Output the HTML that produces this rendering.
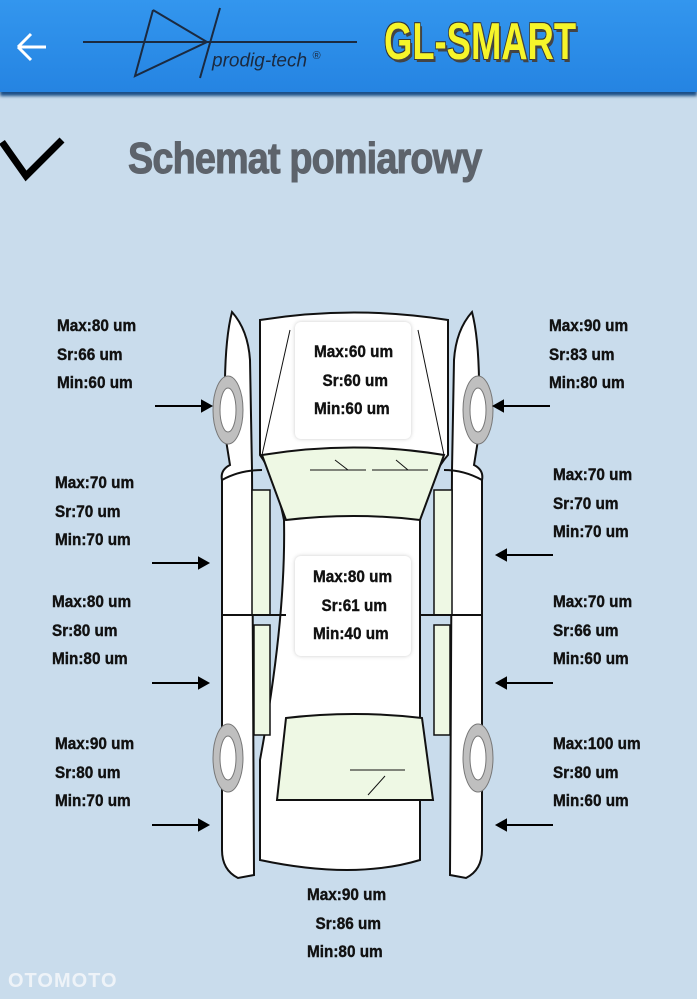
<!DOCTYPE html>
<html><head><meta charset="utf-8"><style>
body{margin:0;width:697px;height:999px;overflow:hidden;background:#c9dcec;font-family:"Liberation Sans",sans-serif;position:relative}
.hdr{position:absolute;left:0;top:0;width:697px;height:92px;background:linear-gradient(#3396ee,#2584e2);box-shadow:0 4px 3px #1a4e86}
.t{position:absolute;font-weight:bold;font-size:17px;line-height:28.5px;color:#111;transform:scaleX(.9);transform-origin:left top;white-space:nowrap;-webkit-text-stroke:.4px #111}
.title{position:absolute;left:128px;top:134px;font-size:44px;font-weight:bold;color:#5d636b;transform:scaleX(.86);transform-origin:left top;letter-spacing:-1px;-webkit-text-stroke:1px #5d636b}
.gl{position:absolute;left:384px;top:12px;font-size:52px;font-weight:bold;color:#f6f52a;transform:scaleX(.7);transform-origin:left top;text-shadow:3px 3px 0 #444,-1px -1px 0 #333,1px -1px 0 #333,-1px 1px 0 #333}
.box{position:absolute;background:#fff;border-radius:6px;box-shadow:0 0 4px #ccc}
</style></head><body>
<div class="hdr"></div>
<svg style="position:absolute;left:0;top:0" width="697" height="999">
<path d="M18 47H46M18 47L31 34M18 47L31 60" stroke="#fff" stroke-width="3" fill="none"/>
<path d="M83 42H357M153 10L135 76L207 42L153 10M220 8L200 78" stroke="#1b2a40" stroke-width="2" fill="none"/>
<path d="M2 142L26 176L62 140" stroke="#000" stroke-width="7" fill="none"/>
<g stroke="#111" stroke-width="2" fill="#fff">
<path d="M232 312Q248 330 250 360L252 470L254 875L238 878Q222 870 222 850L222 480Q220 470 230 465L226 440Q222 350 232 312Z"/>
<path d="M472 312Q456 330 454 360L452 470L450 875L466 878Q482 870 482 850L482 480Q484 470 474 465L478 440Q482 350 472 312Z"/>
<path d="M260 320Q354 305 448 320L448 455Q430 475 420 520L420 860Q354 880 260 860L260 760Q286 620 284 520Q275 475 260 455Z"/>
<path d="M262 455Q354 440 444 455L420 520Q354 512 286 520Z" fill="#eef8e4"/>
<path d="M286 718Q354 710 422 718L433 800H277Z" fill="#eef8e4"/>
<path d="M262 455L290 330M444 455L418 330" fill="none" stroke-width="1"/>
<path d="M252 490L270 490L270 615L252 615ZM254 625L270 625L270 735L254 735Z M434 490L452 490L452 615L434 615ZM434 625L450 625L450 735L434 735Z" fill="#eef8e4" stroke-width="1.5"/>
<path d="M222 615H286M420 615H482M222 480Q240 470 262 470M482 480Q464 470 444 470" fill="none"/>
<path d="M310 470H366M372 470H428M350 770H405M368 795L385 776M335 460L348 470M396 460L408 470" fill="none" stroke-width="1"/>
</g>
<g fill="#bfbfbf" stroke="#777"><ellipse cx="228" cy="410" rx="15" ry="34"/><ellipse cx="478" cy="410" rx="15" ry="34"/><ellipse cx="228" cy="758" rx="15" ry="34"/><ellipse cx="478" cy="758" rx="15" ry="34"/></g>
<g fill="#fff" stroke="#777"><ellipse cx="228" cy="410" rx="8" ry="22"/><ellipse cx="478" cy="410" rx="8" ry="22"/><ellipse cx="228" cy="758" rx="8" ry="22"/><ellipse cx="478" cy="758" rx="8" ry="22"/></g>
<g stroke="#000" stroke-width="2" fill="#000">
<path d="M155 406H204"/><path d="M211 406L202 401V411Z"/>
<path d="M152 563H200"/><path d="M208 563L199 558V568Z"/>
<path d="M152 683H200"/><path d="M208 683L199 678V688Z"/>
<path d="M152 825H200"/><path d="M208 825L199 820V830Z"/>
<path d="M550 406H501"/><path d="M494 406L503 401V411Z"/>
<path d="M553 555H504"/><path d="M497 555L506 550V560Z"/>
<path d="M553 683H504"/><path d="M497 683L506 678V688Z"/>
<path d="M553 825H504"/><path d="M497 825L506 820V830Z"/>
</g>
</svg>
<div style="position:absolute;left:212px;top:50px;font-size:19px;font-style:italic;color:#1b2a40">prodig-tech <sup style="font-size:11px">®</sup></div>
<div class="gl">GL-SMART</div>
<div class="title">Schemat pomiarowy</div>
<div class="box" style="left:295px;top:322px;width:116px;height:117px"></div>
<div class="box" style="left:295px;top:556px;width:116px;height:100px"></div>
<div class="t" style="left:57px;top:312px">Max:80 um<br>Sr:66 um<br>Min:60 um</div>
<div class="t" style="left:55px;top:469px">Max:70 um<br>Sr:70 um<br>Min:70 um</div>
<div class="t" style="left:52px;top:588px">Max:80 um<br>Sr:80 um<br>Min:80 um</div>
<div class="t" style="left:55px;top:730px">Max:90 um<br>Sr:80 um<br>Min:70 um</div>
<div class="t" style="left:549px;top:312px">Max:90 um<br>Sr:83 um<br>Min:80 um</div>
<div class="t" style="left:553px;top:461px">Max:70 um<br>Sr:70 um<br>Min:70 um</div>
<div class="t" style="left:553px;top:588px">Max:70 um<br>Sr:66 um<br>Min:60 um</div>
<div class="t" style="left:553px;top:730px">Max:100 um<br>Sr:80 um<br>Min:60 um</div>
<div class="t" style="left:314px;top:338px">Max:60 um<br>&nbsp;&nbsp;Sr:60 um<br>Min:60 um</div>
<div class="t" style="left:313px;top:563px">Max:80 um<br>&nbsp;&nbsp;Sr:61 um<br>Min:40 um</div>
<div class="t" style="left:307px;top:881px">Max:90 um<br>&nbsp;&nbsp;Sr:86 um<br>Min:80 um</div>
<div style="position:absolute;left:8px;top:970px;font-size:20px;font-weight:bold;color:#eef3f8;letter-spacing:1px">OTOMOTO</div>
</body></html>
